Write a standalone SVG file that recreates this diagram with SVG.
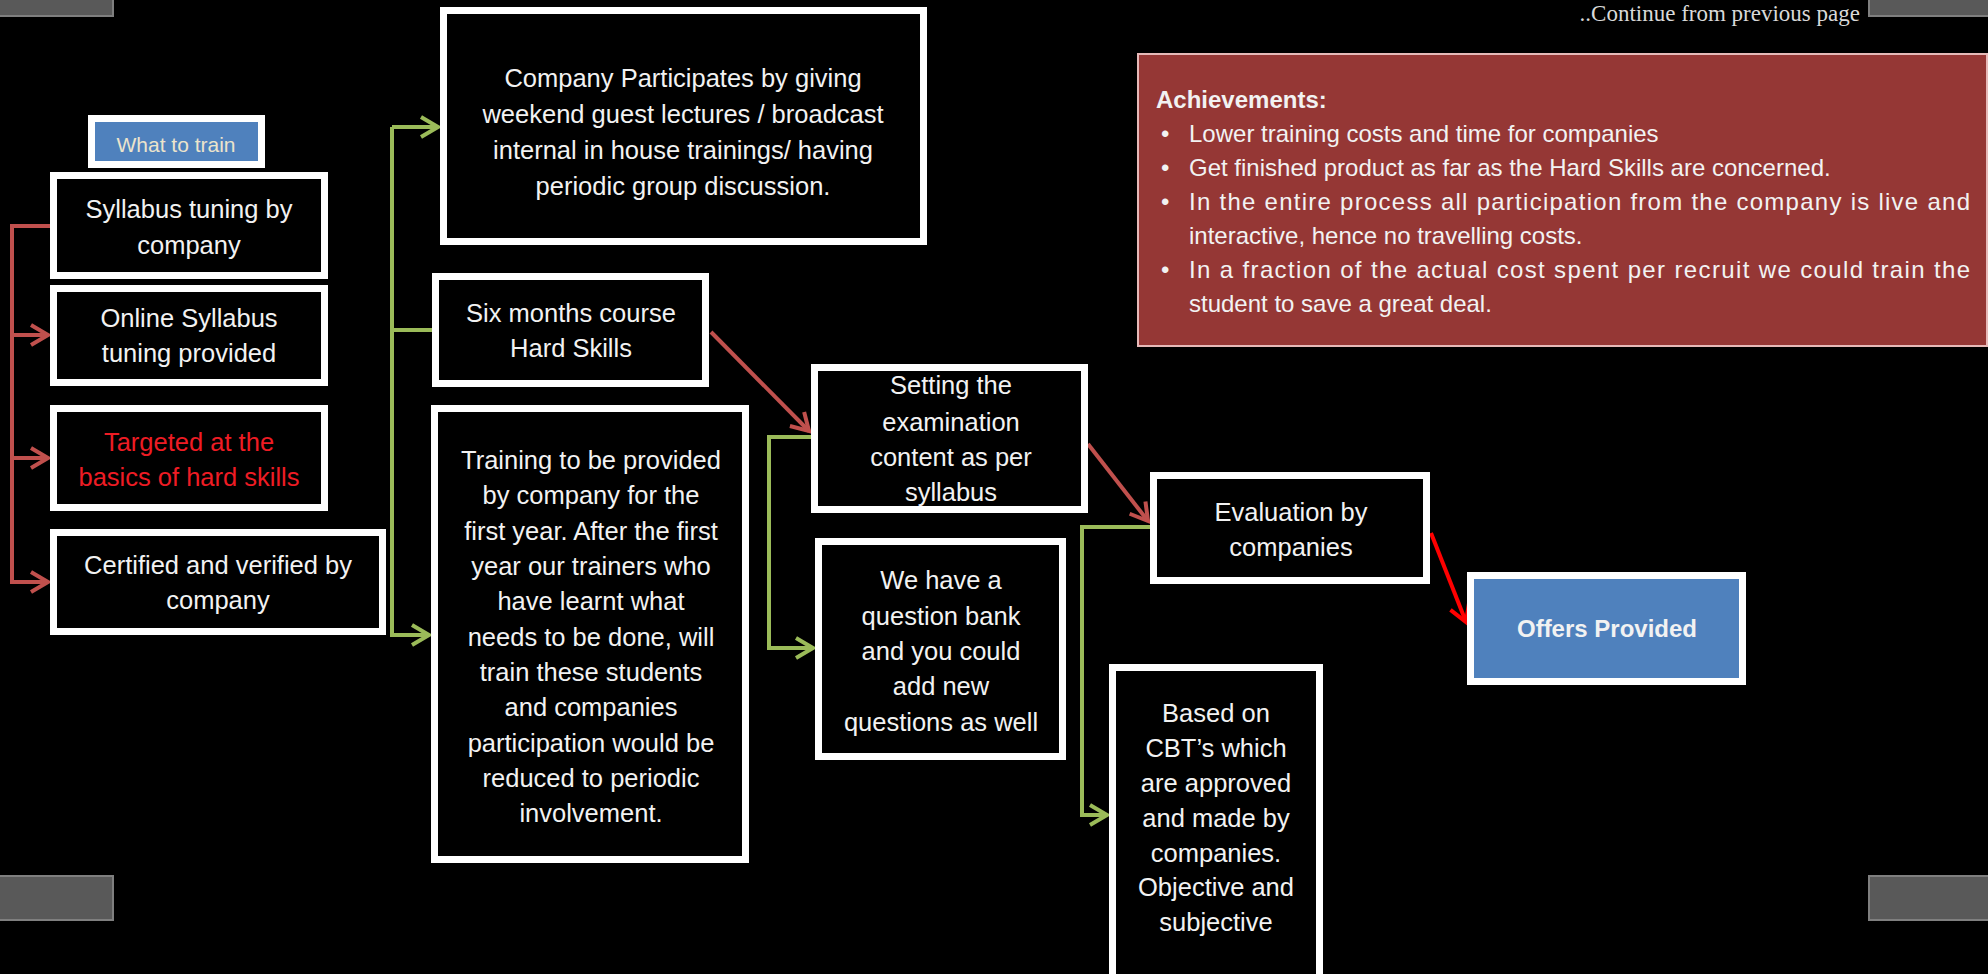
<svg xmlns="http://www.w3.org/2000/svg" width="1988" height="974" viewBox="0 0 1988 974">
<style>
.box{fill:#000;stroke:#fff;stroke-width:7}
.blue{fill:#4f81bd;stroke:#fff;stroke-width:7}
.t{font-family:"Liberation Sans",Arial,sans-serif;font-size:25.5px;fill:#f2f2f2;text-anchor:middle}
.a{font-family:"Liberation Sans",Arial,sans-serif;font-size:24px;fill:#f2f2f2}
.bar{fill:#595959;stroke:#7f7f7f;stroke-width:2}
.cr{fill:none;stroke:#c0504d;stroke-width:4}
.cg{fill:none;stroke:#9bbb59;stroke-width:4}
.cb{fill:none;stroke:#ff0000;stroke-width:4}
</style>
<defs>
<marker id="mr" markerUnits="userSpaceOnUse" markerWidth="24" markerHeight="26" refX="19" refY="12" orient="auto"><path d="M2,2 L19,12 L2,22" fill="none" stroke="#c0504d" stroke-width="4"/></marker>
<marker id="mg" markerUnits="userSpaceOnUse" markerWidth="24" markerHeight="26" refX="19" refY="12" orient="auto"><path d="M2,2 L19,12 L2,22" fill="none" stroke="#9bbb59" stroke-width="4"/></marker>
<marker id="mb" markerUnits="userSpaceOnUse" markerWidth="24" markerHeight="26" refX="19" refY="12" orient="auto"><path d="M2,2 L19,12 L2,22" fill="none" stroke="#ff0000" stroke-width="4"/></marker>
</defs>
<rect width="1988" height="974" fill="#000"/>
<g id="decor">
<rect class="bar" x="-2" y="-2" width="115" height="18"/>
<rect class="bar" x="1869" y="-2" width="121" height="18"/>
<rect class="bar" x="-2" y="876" width="115" height="44"/>
<rect class="bar" x="1869" y="876" width="121" height="44"/>
<text x="1860" y="21" font-family="Liberation Serif,serif" font-size="23" fill="#d9d9d9" text-anchor="end">..Continue from previous page</text>
</g>
<g id="connectors">
<path class="cr" d="M50,226 H12 V582 H48" marker-end="url(#mr)"/>
<path class="cr" d="M12,335 H48" marker-end="url(#mr)"/>
<path class="cr" d="M12,458 H48" marker-end="url(#mr)"/>
<path class="cg" d="M392,127 V635 H429" marker-end="url(#mg)"/>
<path class="cg" d="M392,330 H432"/>
<path class="cg" d="M392,127 H438" marker-end="url(#mg)"/>
<path class="cr" d="M711,332 L809,431" marker-end="url(#mr)"/>
<path class="cg" d="M811,437 H769 V648 H813" marker-end="url(#mg)"/>
<path class="cr" d="M1088,444 L1148,521" marker-end="url(#mr)"/>
<path class="cg" d="M1150,527 H1082 V815 H1107" marker-end="url(#mg)"/>
<path class="cb" d="M1431,533 L1466,622" marker-end="url(#mb)"/>
</g>
<g id="what-to-train">
<rect class="blue" x="91.5" y="118.5" width="170" height="46"/>
<text class="t" x="176" y="152" style="font-size:21px;fill:#ece4cc">What to train</text>
</g>
<g id="syllabus-tuning">
<rect class="box" x="53.5" y="175.5" width="271" height="100"/>
<text class="t" x="189" y="218">Syllabus tuning by</text>
<text class="t" x="189" y="254">company</text>
</g>
<g id="online-syllabus">
<rect class="box" x="53.5" y="288.5" width="271" height="94"/>
<text class="t" x="189" y="327">Online Syllabus</text>
<text class="t" x="189" y="362">tuning provided</text>
</g>
<g id="targeted">
<rect class="box" x="53.5" y="408.5" width="271" height="99"/>
<text class="t" x="189" y="451" style="fill:#ee1c24">Targeted at the</text>
<text class="t" x="189" y="486" style="fill:#ee1c24">basics of hard skills</text>
</g>
<g id="certified">
<rect class="box" x="53.5" y="532.5" width="329" height="99"/>
<text class="t" x="218" y="574">Certified and verified by</text>
<text class="t" x="218" y="609">company</text>
</g>
<g id="company-participates">
<rect class="box" x="443.5" y="10.5" width="480" height="231"/>
<text class="t" x="683" y="87">Company Participates by giving</text>
<text class="t" x="683" y="123">weekend guest lectures / broadcast</text>
<text class="t" x="683" y="159">internal in house trainings/ having</text>
<text class="t" x="683" y="195">periodic group discussion.</text>
</g>
<g id="six-months">
<rect class="box" x="435.5" y="276.5" width="270" height="107"/>
<text class="t" x="571" y="322">Six months course</text>
<text class="t" x="571" y="357">Hard Skills</text>
</g>
<g id="training">
<rect class="box" x="434.5" y="408.5" width="311" height="451"/>
<text class="t" x="591" y="469">Training to be provided</text>
<text class="t" x="591" y="504">by company for the</text>
<text class="t" x="591" y="540">first year. After the first</text>
<text class="t" x="591" y="575">year our trainers who</text>
<text class="t" x="591" y="610">have learnt what</text>
<text class="t" x="591" y="646">needs to be done, will</text>
<text class="t" x="591" y="681">train these students</text>
<text class="t" x="591" y="716">and companies</text>
<text class="t" x="591" y="752">participation would be</text>
<text class="t" x="591" y="787">reduced to periodic</text>
<text class="t" x="591" y="822">involvement.</text>
</g>
<g id="setting-exam">
<rect class="box" x="814.5" y="367.5" width="270" height="142"/>
<text class="t" x="951" y="394">Setting the</text>
<text class="t" x="951" y="431">examination</text>
<text class="t" x="951" y="466">content as per</text>
<text class="t" x="951" y="501">syllabus</text>
</g>
<g id="question-bank">
<rect class="box" x="818.5" y="541.5" width="244" height="215"/>
<text class="t" x="941" y="589">We have a</text>
<text class="t" x="941" y="625">question bank</text>
<text class="t" x="941" y="660">and you could</text>
<text class="t" x="941" y="695">add new</text>
<text class="t" x="941" y="731">questions as well</text>
</g>
<g id="evaluation">
<rect class="box" x="1153.5" y="475.5" width="273" height="105"/>
<text class="t" x="1291" y="521">Evaluation by</text>
<text class="t" x="1291" y="556">companies</text>
</g>
<g id="based-on">
<rect class="box" x="1112.5" y="667.5" width="207" height="320"/>
<text class="t" x="1216" y="722">Based on</text>
<text class="t" x="1216" y="757">CBT’s which</text>
<text class="t" x="1216" y="792">are approved</text>
<text class="t" x="1216" y="827">and made by</text>
<text class="t" x="1216" y="862">companies.</text>
<text class="t" x="1216" y="896">Objective and</text>
<text class="t" x="1216" y="931">subjective</text>
</g>
<g id="offers">
<rect class="blue" x="1470.5" y="575.5" width="272" height="106"/>
<text class="t" x="1607" y="637" style="font-weight:bold;font-size:24px">Offers Provided</text>
</g>
<g id="achievements">
<rect x="1138" y="54" width="849" height="292" fill="#953735" stroke="#e6b9b8" stroke-width="2"/>
<text class="a" x="1156" y="108" style="font-weight:bold">Achievements:</text>
<text class="a" x="1161" y="142">•</text>
<text class="a" x="1189" y="142">Lower training costs and time for companies</text>
<text class="a" x="1161" y="176">•</text>
<text class="a" x="1189" y="176">Get finished product as far as the Hard Skills are concerned.</text>
<text class="a" x="1161" y="210">•</text>
<text class="a" x="1189" y="210" textLength="781" lengthAdjust="spacing">In the entire process all participation from the company is live and</text>
<text class="a" x="1189" y="244">interactive, hence no travelling costs.</text>
<text class="a" x="1161" y="278">•</text>
<text class="a" x="1189" y="278" textLength="781" lengthAdjust="spacing">In a fraction of the actual cost spent per recruit we could train the</text>
<text class="a" x="1189" y="312">student to save a great deal.</text>
</g>
</svg>
